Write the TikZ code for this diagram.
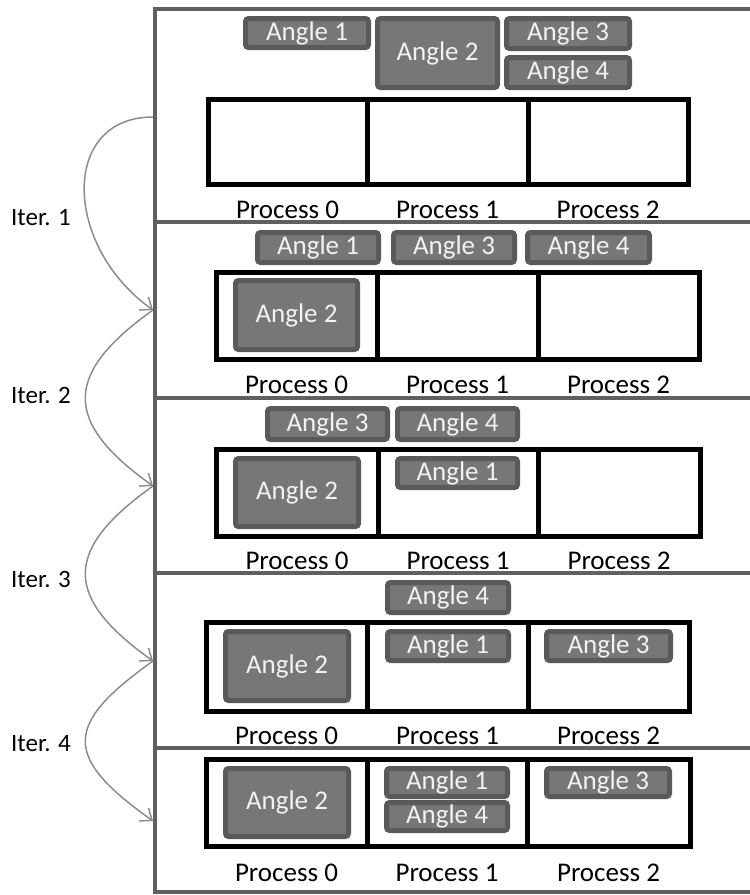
\documentclass[tikz,border=0pt]{standalone}
\usepackage{fontspec}
\setmainfont{Carlito}
\usetikzlibrary{arrows.meta}

\definecolor{framegray}{HTML}{606060}
\definecolor{boxrim}{HTML}{5A5A5A}
\definecolor{boxfill}{HTML}{777777}
\definecolor{arcgray}{HTML}{8C8C8C}
\definecolor{boxtext}{HTML}{F2F2F2}

% angle box from its outer edges: name, x1, y1, x2, y2, text
\newcommand\anglebx[6]{%
  \node[anglebox, minimum width={#4-#2-5}, minimum height={#5-#3-5}]
    (#1) at ({(#2+#4)/2},{(#3+#5)/2}) {#6};}
% process cell from its border path: name, x1, y1, x2, y2
\newcommand\proccell[5]{%
  \node[cell, minimum width={#4-#2}, minimum height={#5-#3}]
    (#1) at ({(#2+#4)/2},{(#3+#5)/2}) {};}
% one row of three process cells with their captions
\newcommand\procrow[8]{% prefix, left, top, right, bottom, div1, div2, caption baseline
  \proccell{#1c0}{#2}{#3}{#6}{#5}
  \proccell{#1c1}{#6}{#3}{#7}{#5}
  \proccell{#1c2}{#7}{#3}{#4}{#5}
  \node[plabel] (#1l0) at (#1c0 |- 0,#8) {Process 0};
  \node[plabel] (#1l1) at (#1c1 |- 0,#8) {Process 1};
  \node[plabel] (#1l2) at (#1c2 |- 0,#8) {Process 2};}

\begin{document}
\begin{tikzpicture}[x=1pt,y=-1pt,
  frameline/.style={draw=framegray, line width=4.5pt},
  anglebox/.style={draw=boxrim, fill=boxfill, line width=5pt, rounded corners=3pt,
    text=boxtext, inner sep=0pt, font=\fontsize{27}{30}\selectfont},
  cell/.style={draw=black, line width=5pt, inner sep=0pt},
  plabel/.style={font=\fontsize{27}{30}\selectfont, inner sep=0pt, anchor=base},
  iterlabel/.style={font=\fontsize{25}{28}\selectfont, inner sep=0pt, anchor=west},
  iterarc/.style={draw=arcgray, line width=1.5pt,
    -{Straight Barb[length=10pt,width=16pt]}}
]
\useasboundingbox (0,0) rectangle (750,895);

% iteration arcs along the left edge of the frame
\coordinate (f1) at (153,117);
\coordinate (f2) at (153,310);
\coordinate (f3) at (153,486);
\coordinate (f4) at (153,661);
\coordinate (f5) at (153,821);
\draw[iterarc] (f1) .. controls (60,117) and (63,246) .. (f2);
\draw[iterarc] (f2) .. controls (63,374) and (63,422) .. (f3);
\draw[iterarc] (f3) .. controls (63,550) and (63,597) .. (f4);
\draw[iterarc] (f4) .. controls (63,725) and (63,757) .. (f5);

\node[iterlabel] (it1) at (11,218) {Iter. 1};
\node[iterlabel] (it2) at (11,395) {Iter. 2};
\node[iterlabel] (it3) at (11,579) {Iter. 3};
\node[iterlabel] (it4) at (11,744) {Iter. 4};

% frame and panel separators
\draw[frameline] (155,9) -- (155,892);
\foreach \yy in {9,222,398,573,748,892}
  \draw[frameline] (153,\yy) -- (760,\yy);

% panel 1
\procrow{pa}{208}{99}{688}{184}{367}{528}{218}
\anglebx{pa1}{243}{16}{371}{50}{Angle 1}
\anglebx{pa2}{375}{16}{500}{90}{Angle 2}
\anglebx{pa3}{504}{16}{632}{51}{Angle 3}
\anglebx{pa4}{504}{55}{632}{90}{Angle 4}

% panel 2
\procrow{pb}{216}{272}{699}{359}{377}{538}{393}
\anglebx{pb1}{255}{230}{381}{265}{Angle 1}
\anglebx{pb3}{391}{230}{517}{265}{Angle 3}
\anglebx{pb4}{525}{230}{652}{265}{Angle 4}
\anglebx{pb2}{233}{278}{360}{352}{Angle 2}

% panel 3
\procrow{pc}{216}{449}{700}{536}{378}{538}{569}
\anglebx{pc3}{265}{406}{390}{442}{Angle 3}
\anglebx{pc4}{395}{406}{520}{442}{Angle 4}
\anglebx{pc2}{233}{456}{361}{529}{Angle 2}
\anglebx{pc1}{395}{456}{520}{490}{Angle 1}

% panel 4
\procrow{pd}{206}{622}{689}{711}{367}{528}{744}
\anglebx{pd4}{385}{580}{511}{615}{Angle 4}
\anglebx{pd2}{223}{629}{351}{703}{Angle 2}
\anglebx{pd1}{385}{629}{511}{663}{Angle 1}
\anglebx{pd3}{544}{629}{673}{663}{Angle 3}

% panel 5
\procrow{pe}{206}{759}{690}{846}{367}{527}{881}
\anglebx{pe2}{223}{766}{351}{839}{Angle 2}
\anglebx{pe1}{384}{766}{510}{799}{Angle 1}
\anglebx{pe4}{384}{800}{510}{833}{Angle 4}
\anglebx{pe3}{544}{766}{672}{799}{Angle 3}
\end{tikzpicture}
\end{document}
